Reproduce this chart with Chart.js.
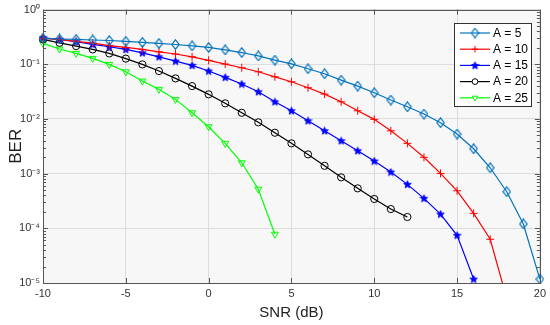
<!DOCTYPE html>
<html>
<head>
<meta charset="utf-8">
<script src="https://cdn.jsdelivr.net/npm/chart.js@4/dist/chart.umd.min.js"></script>
<style>
  html, body { margin: 0; padding: 0; background: #fff; }
  #wrap { width: 550px; height: 325px; position: relative; }
</style>
</head>
<body>
<div id="wrap"><canvas id="berChart"></canvas></div>
<script>
// ---- data ----
const snr = [-10, -9, -8, -7, -6, -5, -4, -3, -2, -1, 0, 1, 2, 3, 4, 5, 6, 7, 8, 9, 10,
             11, 12, 13, 14, 15, 16, 17, 18, 19, 20];

const seriesLabels = ['A = 5', 'A = 10', 'A = 15', 'A = 20', 'A = 25'];

const berA5 = [0.297, 0.290, 0.285, 0.278, 0.272, 0.263, 0.252, 0.241, 0.230, 0.217, 0.203,
               0.183, 0.164, 0.142, 0.119, 0.102, 0.0828, 0.067, 0.0514, 0.0399, 0.0301,
               0.0222, 0.0167, 0.0123, 0.00853, 0.0053, 0.00285, 0.00128, 4.67e-4, 1.2e-4, 1.18e-5];
const berA10 = [0.297, 0.285, 0.262, 0.243, 0.220, 0.204, 0.187, 0.169, 0.154, 0.137, 0.118,
                0.101, 0.0863, 0.0729, 0.059, 0.0479, 0.0372, 0.0285, 0.0206, 0.0141, 0.00984,
                0.00608, 0.00358, 0.00199, 0.00101, 4.86e-4, 1.88e-4, 6.3e-5, 5.2e-6];
const berA15 = [0.305, 0.285, 0.258, 0.231, 0.209, 0.187, 0.162, 0.137, 0.1145, 0.0955, 0.0752,
                0.0577, 0.0435, 0.0314, 0.0206, 0.0141, 0.00927, 0.00608, 0.00399, 0.00262, 0.0017,
                0.00107, 6.37e-4, 3.53e-4, 1.82e-4, 7.45e-5, 1.18e-5];
const berA20 = [0.285, 0.247, 0.215, 0.187, 0.158, 0.127, 0.0995, 0.0752, 0.0552, 0.0399, 0.0282,
                0.0193, 0.01297, 0.00867, 0.0056, 0.00358, 0.00225, 0.00139, 8.55e-4, 5.38e-4, 3.44e-4,
                2.25e-4, 1.61e-4];
const berA25 = [0.241, 0.19, 0.158, 0.128, 0.0995, 0.0729, 0.0493, 0.0348, 0.0228, 0.013, 0.0072,
                0.00358, 0.00158, 5.2e-4, 7.8e-5];

const xTicks = [-10, -5, 0, 5, 10, 15, 20];
const yTicks = [1e-5, 1e-4, 1e-3, 1e-2, 1e-1, 1];
const yTickLabels = ['10\u207B\u2075', '10\u207B\u2074', '10\u207B\u00B3', '10\u207B\u00B2', '10\u207B\u00B9', '10\u2070'];

// ---- marker images (diamond + pentagram like MATLAB) ----
function diamondMarker(color) {
  const c = document.createElement('canvas');
  c.width = 9; c.height = 11;
  const g = c.getContext('2d');
  g.strokeStyle = color; g.lineWidth = 1.2;
  g.beginPath();
  g.moveTo(4.5, 0.8); g.lineTo(8.2, 5.5); g.lineTo(4.5, 10.2); g.lineTo(0.8, 5.5);
  g.closePath(); g.stroke();
  return c;
}
function starMarker(color) {
  const c = document.createElement('canvas');
  c.width = 9; c.height = 9;
  const g = c.getContext('2d');
  g.fillStyle = color; g.strokeStyle = color; g.lineWidth = 0.8;
  g.beginPath();
  for (let i = 0; i < 10; i++) {
    const r = i % 2 === 0 ? 4 : 1.8;
    const a = -Math.PI / 2 + i * Math.PI / 5;
    const px = 4.5 + r * Math.cos(a), py = 4.8 + r * Math.sin(a);
    if (i === 0) g.moveTo(px, py); else g.lineTo(px, py);
  }
  g.closePath(); g.fill(); g.stroke();
  return c;
}

const colA5 = '#0072BD';
const styles = [
  { color: colA5, pointStyle: diamondMarker(colA5), radius: 5, rotation: 0 },
  { color: '#ff0000', pointStyle: 'cross', radius: 4, rotation: 0 },
  { color: '#0000ff', pointStyle: starMarker('#0000ff'), radius: 4, rotation: 0 },
  { color: '#000000', pointStyle: 'circle', radius: 3.6, rotation: 0 },
  { color: '#00ff00', pointStyle: 'triangle', radius: 4, rotation: 180 }
];
const allSeries = [berA5, berA10, berA15, berA20, berA25];

const datasets = allSeries.map((arr, k) => ({
  label: seriesLabels[k],
  data: arr.map((v, i) => ({ x: snr[i], y: v })),
  borderColor: styles[k].color,
  backgroundColor: 'rgba(0,0,0,0)',
  borderWidth: 1.2,
  pointStyle: styles[k].pointStyle,
  pointRadius: styles[k].radius,
  pointRotation: styles[k].rotation,
  pointBorderColor: styles[k].color,
  pointBackgroundColor: 'rgba(0,0,0,0)',
  pointBorderWidth: 1,
  tension: 0,
  clip: { left: 8, right: 8, top: 8, bottom: 1 }
}));

const FONT = "'Liberation Sans', Arial, sans-serif";

/* ================= FRAME / TICKS / LEGEND ================= */
const framePlugin = {
  id: 'frame',
  beforeDraw(chart) {
    const a = chart.chartArea, ctx = chart.ctx;
    ctx.save();
    ctx.fillStyle = '#f7f7f7';
    ctx.fillRect(a.left, a.top, a.right - a.left, a.bottom - a.top);
    ctx.restore();
  },
  afterDraw(chart) {
    const a = chart.chartArea, ctx = chart.ctx;
    const xs = chart.scales.x, ys = chart.scales.y;
    ctx.save();
    ctx.strokeStyle = '#555';
    ctx.lineWidth = 1;
    // box
    ctx.strokeRect(Math.round(a.left) + 0.5, Math.round(a.top) + 0.5,
                   Math.round(a.right - a.left), Math.round(a.bottom - a.top));
    // x ticks (inside, bottom and top)
    ctx.beginPath();
    xTicks.forEach(v => {
      const px = Math.round(xs.getPixelForValue(v)) + 0.5;
      ctx.moveTo(px, a.bottom); ctx.lineTo(px, a.bottom - 5);
      ctx.moveTo(px, a.top); ctx.lineTo(px, a.top + 5);
    });
    // y ticks, decades long, minor short
    for (let d = -5; d <= 0; d++) {
      for (let m = 1; m <= 9; m++) {
        const v = m * Math.pow(10, d);
        if (v > 1) break;
        const py = Math.round(ys.getPixelForValue(v)) + 0.5;
        const len = m === 1 ? 5 : 3;
        ctx.moveTo(a.left, py); ctx.lineTo(a.left + len, py);
        ctx.moveTo(a.right, py); ctx.lineTo(a.right - len, py);
      }
    }
    ctx.stroke();

    // legend box
    const lx = 454, ly = 23, lw = 77, lh = 83, rowH = 16.2;
    ctx.fillStyle = '#ffffff';
    ctx.fillRect(lx, ly, lw, lh);
    ctx.strokeStyle = '#333';
    ctx.strokeRect(lx + 0.5, ly + 0.5, lw, lh);
    ctx.font = '12px ' + FONT;
    ctx.textBaseline = 'middle';
    ctx.textAlign = 'left';
    chart.data.datasets.forEach((ds, i) => {
      const y = ly + 10 + i * rowH;
      ctx.strokeStyle = ds.borderColor;
      ctx.lineWidth = 1.2;
      ctx.beginPath();
      ctx.moveTo(lx + 6, y); ctx.lineTo(lx + 36, y);
      ctx.stroke();
      ctx.fillStyle = '#ffffff';
      ctx.lineWidth = 1;
      Chart.helpers.drawPoint(ctx, {
        pointStyle: ds.pointStyle, radius: ds.pointRadius * 0.8, rotation: ds.pointRotation,
        borderWidth: 1
      }, lx + 21, y);
      ctx.fillStyle = '#000';
      ctx.fillText(ds.label, lx + 39, y + 0.5);
    });
    ctx.restore();
  }
};

const ctx = document.getElementById('berChart');
new Chart(ctx, {
  type: 'line',
  data: { datasets },
  options: {
    responsive: true,
    maintainAspectRatio: false,
    animation: false,
    events: [],
    layout: { padding: { top: 9, right: 8, left: 0, bottom: 0 } },
    plugins: { legend: { display: false }, tooltip: { enabled: false } },
    scales: {
      x: {
        type: 'linear',
        min: -10, max: 20,
        afterBuildTicks: s => { s.ticks = xTicks.map(v => ({ value: v })); },
        afterFit: s => { s.height = 42; },
        ticks: { color: '#333', font: { family: FONT, size: 11 }, padding: 4, maxRotation: 0 },
        grid: { color: '#dcdcdc', lineWidth: 1, drawTicks: false },
        border: { display: false },
        title: { display: true, text: 'SNR (dB)', color: '#222', font: { family: FONT, size: 15 },
                 padding: { top: 0, bottom: 3 } }
      },
      y: {
        type: 'logarithmic',
        min: 1e-5, max: 1,
        afterBuildTicks: s => { s.ticks = yTicks.map(v => ({ value: v })); },
        afterFit: s => { s.width = 43; },
        ticks: { color: '#333', font: { family: FONT, size: 11 }, padding: 3,
                 callback: (v, i) => yTickLabels[i] },
        grid: { color: '#dcdcdc', lineWidth: 1, drawTicks: false },
        border: { display: false },
        title: { display: true, text: 'BER', color: '#222', font: { family: FONT, size: 17 },
                 padding: { top: 6, bottom: 0 } }
      }
    }
  },
  plugins: [framePlugin]
});
</script>
</body>
</html>
